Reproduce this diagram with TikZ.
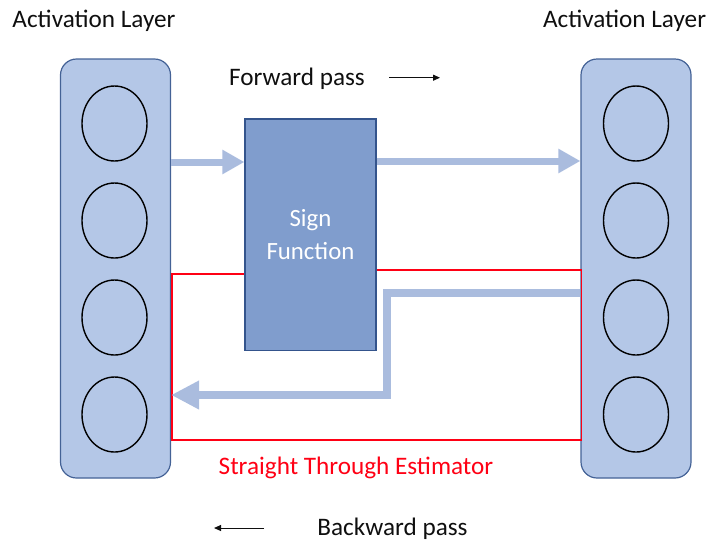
\documentclass[tikz,border=0pt]{standalone}
\usepackage{fontspec}
\setmainfont{Carlito}
\usetikzlibrary{arrows.meta,shapes.geometric}
\definecolor{layerfill}{RGB}{180,199,231}
\definecolor{layeredge}{RGB}{68,98,150}
\definecolor{signfill}{RGB}{128,157,205}
\definecolor{signedge}{RGB}{52,84,140}
\definecolor{flow}{RGB}{170,188,222}
\definecolor{stered}{RGB}{255,0,20}
\definecolor{ink}{RGB}{15,15,15}
\begin{document}
\begin{tikzpicture}[x=1pt,y=-1pt,
  layer/.style={draw=layeredge, line width=1.2pt, fill=layerfill,
    rounded corners=16pt, minimum width=110pt, minimum height=419pt, inner sep=0pt},
  neuron/.style={ellipse, draw=black, line width=1.4pt,
    minimum width=65pt, minimum height=75pt, inner sep=0pt},
  signbox/.style={draw=signedge, line width=1.2pt, fill=signfill,
    minimum width=131pt, minimum height=231.5pt, text=white, align=center,
    font=\fontsize{24.8}{33}\selectfont},
  label/.style={text=ink, font=\fontsize{25.2}{30}\selectfont, inner sep=0pt, anchor=base},
  flowarrow/.style={draw=flow, line width=7pt, line join=miter,
    -{Triangle[length=22pt,width=23pt]}},
  backarrow/.style={draw=flow, line width=8pt, line join=miter,
    -{Triangle[length=28pt,width=27pt]}},
  ste/.style={draw=stered, line width=1.6pt},
  passarrow/.style={draw=ink, line width=1pt, -{Triangle[length=7pt,width=6pt]}}
]
\useasboundingbox (0,0) rectangle (711,542);

% activation layers
\node[layer] (lcol) at (115.5,268.5) {};
\node[layer] (rcol) at (636,268.5) {};
\foreach \i/\y in {1/123.5,2/220.5,3/317.5,4/414.5}{
  \node[neuron] (ln\i) at (114.5,\y) {};
  \node[neuron] (rn\i) at (636,\y) {};
}

% straight through estimator loop (the sign box is drawn over it)
\draw[ste] (245,274) -- (172,274) -- (172,440) -- (581.5,440) -- (581.5,270) -- (376,270);

% forward flow
\coordinate (fy1) at (0,162);
\coordinate (fy2) at (0,161);
% backward flow
\coordinate (by1) at (0,293);
\coordinate (bend1) at (387,293);
\coordinate (bend2) at (387,395);
\coordinate (by2) at (0,395);

% sign function
\node[signbox] (sign) at (310.5,234.75) {Sign\\Function};

\draw[flowarrow] (lcol.east |- fy1) -- (sign.west |- fy1);
\draw[flowarrow] (sign.east |- fy2) -- (rcol.west |- fy2);
\draw[backarrow] (rcol.west |- by1) -- (bend1) -- (bend2) -- (lcol.east |- by2);

% captions
\node[label] (ltitle) at (94,27.3) {Activation Layer};
\node[label] (rtitle) at (624.5,27.3) {Activation Layer};
\node[label] (fwd) at (297,85.7) {Forward pass};
\coordinate (fa1) at (389,77.7);
\coordinate (fa2) at (440,77.7);
\draw[passarrow] (fa1) -- (fa2);
\node[label, text=stered] (stelabel) at (356,474) {Straight Through Estimator};
\node[label] (bwd) at (392.5,535.7) {Backward pass};
\coordinate (ba1) at (264,528);
\coordinate (ba2) at (214,528);
\draw[passarrow] (ba1) -- (ba2);
\end{tikzpicture}
\end{document}
